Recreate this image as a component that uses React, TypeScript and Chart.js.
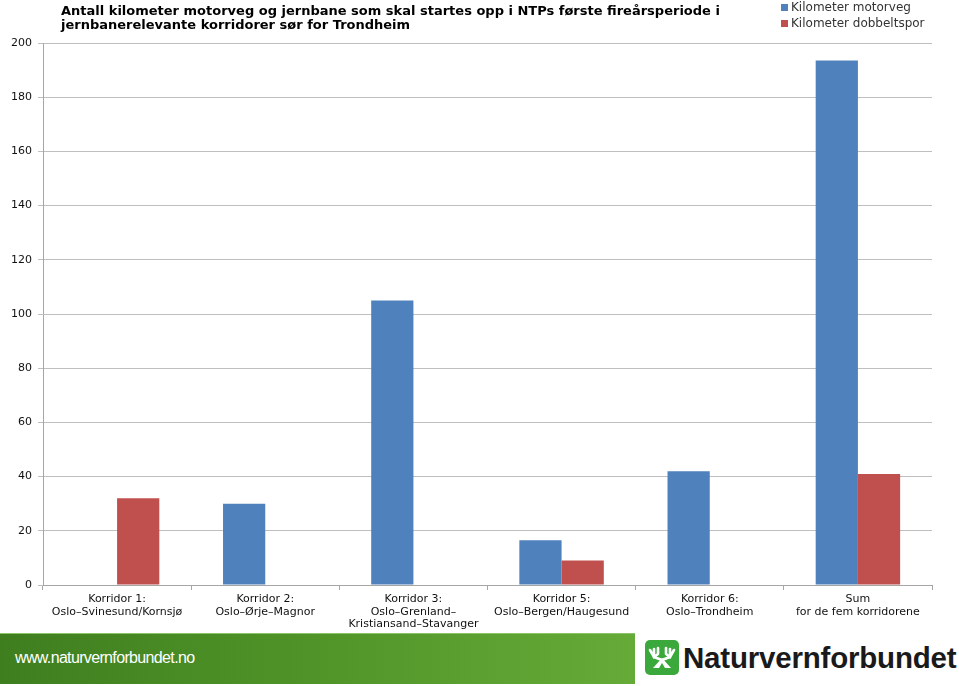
import React, { useEffect, useRef } from "react";
import { Chart, registerables } from "chart.js";

Chart.register(...registerables);

const titleLines = [
  "Antall kilometer motorveg og jernbane som skal startes opp i NTPs første fireårsperiode i",
  "jernbanerelevante korridorer sør for Trondheim",
];

const categories: string[][] = [
  ["Korridor 1:", "Oslo–Svinesund/Kornsjø"],
  ["Korridor 2:", "Oslo–Ørje–Magnor"],
  ["Korridor 3:", "Oslo–Grenland–", "Kristiansand–Stavanger"],
  ["Korridor 5:", "Oslo–Bergen/Haugesund"],
  ["Korridor 6:", "Oslo–Trondheim"],
  ["Sum", "for de fem korridorene"],
];

const seriesNames = ["Kilometer motorveg", "Kilometer dobbeltspor"];
const motorveg = [0, 30, 105, 16.5, 42, 193.5];
const dobbeltspor = [32, 0, 0, 9, 0, 41];
const seriesColors = ["#4F81BD", "#C0504D"];

const yMin = 0;
const yMax = 200;
const yStep = 20;

const FONT = "'DejaVu Sans', Verdana, sans-serif";

const overlayPlugin = {
  id: "overlay",
  afterDraw(chart: any) {
    const ctx = chart.ctx;
    const area = chart.chartArea;
    ctx.save();
    // Title
    ctx.fillStyle = "#000";
    ctx.font = `bold 13px ${FONT}`;
    ctx.textBaseline = "middle";
    ctx.textAlign = "left";
    titleLines.forEach((t, i) => ctx.fillText(t, area.left + 18, 11.5 + i * 14.5));
    // Legend
    ctx.font = `12px ${FONT}`;
    chart.data.datasets.forEach((ds: any, i: number) => {
      const y = 7.5 + i * 16;
      ctx.fillStyle = ds.backgroundColor;
      ctx.fillRect(781, y - 3.5, 7, 7);
      ctx.fillStyle = "#333";
      ctx.fillText(ds.label, 791, y);
    });
    ctx.restore();
  },
};

function Logo() {
  return (
    <svg width="34" height="35" viewBox="0 0 34 35" style={{ position: "absolute", left: 645, top: 640 }}>
      <rect x="0" y="0" width="34" height="35" rx="5" fill="#3aa83a" />
      <g stroke="#fff" strokeWidth="2.6" strokeLinecap="round" fill="none">
        <path d="M9 9 L9 14 M13 8 L13 14 M5 10 L9 17 L13 14" />
        <path d="M25 9 L25 14 M21 8 L21 14 M29 10 L25 17 L21 14" />
        <path d="M9 17 L17 20 L25 17" />
      </g>
      <path d="M17 18 L8 28 L26 28 Z" fill="#fff" />
      <path d="M17 23 L14 28 L20 28 Z" fill="#3aa83a" />
    </svg>
  );
}

export default function App() {
  const canvasRef = useRef<HTMLCanvasElement | null>(null);

  useEffect(() => {
    if (!canvasRef.current) return;
    const chart = new Chart(canvasRef.current, {
      type: "bar",
      data: {
        labels: categories,
        datasets: [
          {
            label: seriesNames[0],
            data: motorveg,
            backgroundColor: seriesColors[0],
            borderWidth: 0,
            categoryPercentage: 0.57,
            barPercentage: 1,
          },
          {
            label: seriesNames[1],
            data: dobbeltspor,
            backgroundColor: seriesColors[1],
            borderWidth: 0,
            categoryPercentage: 0.57,
            barPercentage: 1,
          },
        ],
      },
      options: {
        animation: false,
        responsive: true,
        maintainAspectRatio: false,
        layout: { padding: { top: 43, right: 27, bottom: 0, left: 0 } },
        plugins: {
          legend: { display: false },
          title: { display: false },
          tooltip: { enabled: false },
        },
        scales: {
          x: {
            grid: {
              offset: true,
              drawOnChartArea: false,
              drawTicks: true,
              tickLength: 5,
              color: "#a6a6a6",
            },
            border: { color: "#a6a6a6", width: 1 },
            ticks: {
              color: "#111",
              font: { family: FONT, size: 11, lineHeight: 1.15 },
              padding: 3,
              maxRotation: 0,
              autoSkip: false,
            },
            afterFit: (s: any) => {
              s.height = 47;
            },
          },
          y: {
            min: yMin,
            max: yMax,
            ticks: {
              stepSize: yStep,
              color: "#111",
              font: { family: FONT, size: 11 },
              padding: 6,
            },
            grid: { color: "#bfbfbf", tickLength: 5, drawTicks: true },
            border: { color: "#a6a6a6", width: 1 },
            afterFit: (s: any) => {
              s.width = 43;
            },
          },
        },
      },
      plugins: [overlayPlugin],
    });
    return () => chart.destroy();
  }, []);

  return (
    <div style={{ position: "absolute", left: 0, top: 0, width: 959, height: 686, background: "#fff", overflow: "hidden" }}>
      <div style={{ position: "absolute", left: 0, top: 0, width: 959, height: 632 }}>
        <canvas ref={canvasRef} />
      </div>
      <div
        style={{
          position: "absolute",
          left: 0,
          top: 633,
          width: 635,
          height: 51,
          background: "linear-gradient(90deg, #3f7e1f 0%, #4e9227 45%, #66ab38 100%)",
          borderTop: "1px solid #8cc46a",
          boxSizing: "border-box",
        }}
      >
        <div
          style={{
            position: "absolute",
            left: 15,
            top: 14,
            color: "#fff",
            fontFamily: "'Liberation Sans', Arial, sans-serif",
            fontSize: 16,
            letterSpacing: -0.65,
            lineHeight: "20px",
          }}
        >
          www.naturvernforbundet.no
        </div>
      </div>
      <Logo />
      <div
        style={{
          position: "absolute",
          left: 683,
          top: 640,
          color: "#1a1a1a",
          fontFamily: "'Liberation Sans', Arial, sans-serif",
          fontWeight: "bold",
          fontSize: 29.5,
          lineHeight: "36px",
          letterSpacing: -0.2,
        }}
      >
        Naturvernforbundet
      </div>
    </div>
  );
}
